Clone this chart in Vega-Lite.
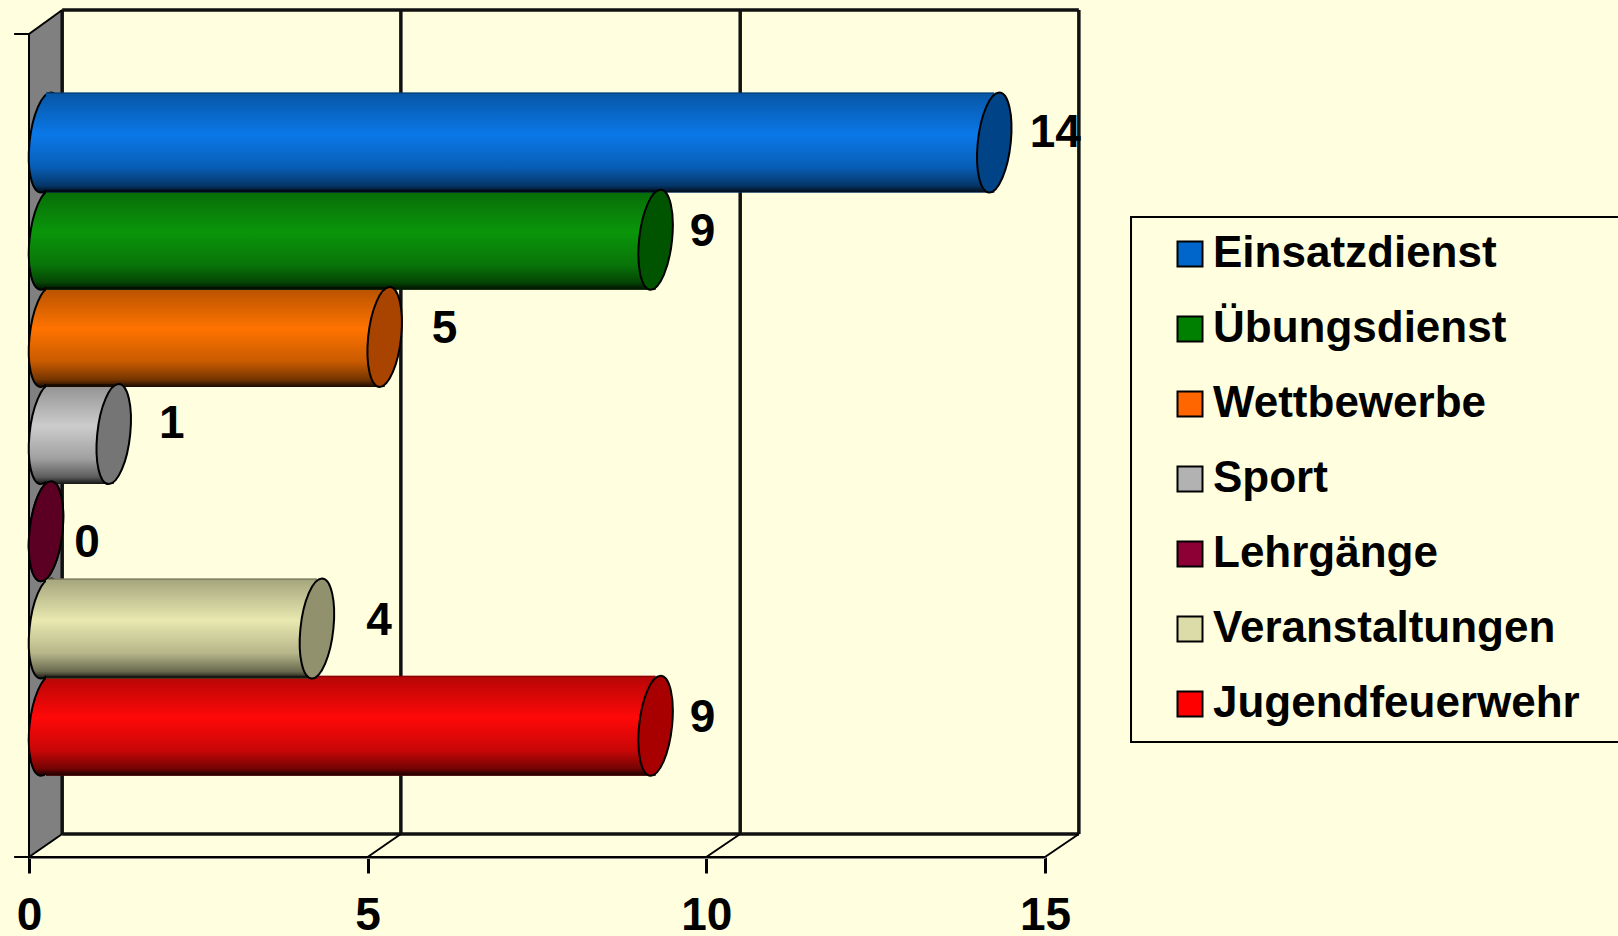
{"$schema":"https://vega.github.io/schema/vega-lite/v6.json","width":1618,"height":857,"autosize":{"type":"none"},"padding":{"left":0,"top":0,"right":0,"bottom":79},"background":"#ffffe0","config":{"view":{"stroke":null},"font":"Liberation Sans"},"resolve":{"scale":{"fill":"independent"}},
"datasets":{"bars":[{"kategorie":"Jugendfeuerwehr","wert":9,"platz":7},{"kategorie":"Veranstaltungen","wert":4,"platz":6},{"kategorie":"Lehrgänge","wert":0,"platz":5},{"kategorie":"Sport","wert":1,"platz":4},{"kategorie":"Wettbewerbe","wert":5,"platz":3},{"kategorie":"Übungsdienst","wert":9,"platz":2},{"kategorie":"Einsatzdienst","wert":14,"platz":1}],
"wall":[{"x":0,"y":-0.116,"y2":8.351},{"x":0.49,"y":-0.363,"y2":8.114}],
"box":[{"x":16.27,"x2":24,"y":1.766,"y2":7.167}],
"thick":[{"x":0.49,"x2":15.5,"y":-0.363,"y2":-0.363},{"x":0.49,"x2":15.5,"y":8.114,"y2":8.114},{"x":15.5,"x2":15.5,"y":-0.363,"y2":8.114},{"x":0.49,"x2":0.49,"y":-0.363,"y2":8.114},{"x":5.49,"x2":5.49,"y":-0.363,"y2":8.114},{"x":10.5,"x2":10.5,"y":-0.363,"y2":8.114}],
"thin":[{"x":0,"x2":0.49,"y":-0.116,"y2":-0.363},{"x":0,"x2":0.49,"y":8.351,"y2":8.114},{"x":5,"x2":5.49,"y":8.351,"y2":8.114},{"x":10,"x2":10.5,"y":8.351,"y2":8.114},{"x":15,"x2":15.5,"y":8.351,"y2":8.114},{"x":0,"x2":0,"y":-0.116,"y2":8.351},{"x":-0.22,"x2":0,"y":-0.116,"y2":-0.116},{"x":-0.22,"x2":0,"y":8.351,"y2":8.351},{"x":0,"x2":15,"y":8.351,"y2":8.351}]},
"layer":[
{"data":{"name":"wall"},"mark":{"type":"area","color":"#808080","orient":"vertical"},"encoding":{"x":{"field":"x","type":"quantitative","scale":{"domain":[0,15],"range":[29,1045],"nice":false,"zero":false,"padding":0},"title":null,"axis":{"values":[0,5,10,15],"format":"d","grid":false,"domain":true,"domainColor":"#808080","domainWidth":3,"ticks":true,"tickColor":"#000000","tickWidth":3,"tickSize":16,"labelFont":"Liberation Sans","labelFontWeight":"bold","labelFontSize":46,"labelColor":"#000000","labelPadding":20,"labelFlush":false,"labelOverlap":false,"labelBound":false}},"y":{"field":"y","type":"quantitative","scale":{"domain":[8.351,-0.116],"range":[857,34],"nice":false,"zero":false,"padding":0},"axis":null},"y2":{"field":"y2"}}},
{"data":{"name":"box"},"mark":{"type":"rect","fill":"#ffffe0","stroke":"#000000","strokeWidth":2},"encoding":{"x":{"field":"x","type":"quantitative"},"x2":{"field":"x2"},"y":{"field":"y","type":"quantitative"},"y2":{"field":"y2"}}},
{"data":{"name":"thick"},"mark":{"type":"rule","color":"#111111","strokeWidth":3.5},"encoding":{"x":{"field":"x","type":"quantitative"},"x2":{"field":"x2"},"y":{"field":"y","type":"quantitative"},"y2":{"field":"y2"}}},
{"data":{"name":"thin"},"mark":{"type":"rule","color":"#000000","strokeWidth":2},"encoding":{"x":{"field":"x","type":"quantitative"},"x2":{"field":"x2"},"y":{"field":"y","type":"quantitative"},"y2":{"field":"y2"}}},
{"data":{"name":"bars"},"mark":{"type":"point","filled":true,"xOffset":17,"shape":"M0.1,-1C0.282,-1,0.385,-0.552,0.33,0C0.275,0.552,0.082,1,-0.1,1C-0.282,1,-0.385,0.552,-0.33,0C-0.275,-0.552,-0.082,-1,0.1,-1Z","size":10000,"stroke":"#000000","strokeWidth":2,"opacity":1},"encoding":{"x":{"datum":0,"type":"quantitative"},"y":{"field":"platz","type":"quantitative"},"fill":{"field":"kategorie","type":"nominal","scale":{"domain":["Einsatzdienst","Übungsdienst","Wettbewerbe","Sport","Lehrgänge","Veranstaltungen","Jugendfeuerwehr"],"range":["#0a78e8","#0a960a","#ff7300","#cccccc","#8c0036","#e8e8b0","#ff0808"]},"legend":null}}},
{"data":{"name":"bars"},"mark":{"type":"point","filled":true,"xOffset":17,"opacity":1,"shape":"M0.1,-1C0.282,-1,0.385,-0.552,0.33,0C0.275,0.552,0.082,1,-0.1,1C-0.282,1,-0.385,0.552,-0.33,0C-0.275,-0.552,-0.082,-1,0.1,-1Z","size":10000,"fill":{"gradient":"linear","x1":0,"y1":0,"x2":0,"y2":1,"stops":[{"offset":0,"color":"rgba(0,0,0,0.6)"},{"offset":0.02,"color":"rgba(0,0,0,0.28)"},{"offset":0.42,"color":"rgba(0,0,0,0)"},{"offset":0.75,"color":"rgba(0,0,0,0.22)"},{"offset":0.93,"color":"rgba(0,0,0,0.55)"},{"offset":1,"color":"rgba(0,0,0,0.9)"}]}},"encoding":{"x":{"datum":0,"type":"quantitative"},"y":{"field":"platz","type":"quantitative"}}},
{"data":{"name":"bars"},"mark":{"type":"bar","orient":"horizontal","size":100,"xOffset":17,"x2Offset":17},"encoding":{"x":{"field":"wert","type":"quantitative"},"y":{"field":"platz","type":"quantitative"},"fill":{"field":"kategorie","type":"nominal","scale":{"domain":["Einsatzdienst","Übungsdienst","Wettbewerbe","Sport","Lehrgänge","Veranstaltungen","Jugendfeuerwehr"],"range":["#0a78e8","#0a960a","#ff7300","#cccccc","#8c0036","#e8e8b0","#ff0808"]},"legend":null}}},
{"data":{"name":"bars"},"mark":{"type":"bar","orient":"horizontal","size":100,"xOffset":17,"x2Offset":17,"fill":{"gradient":"linear","x1":0,"y1":0,"x2":0,"y2":1,"stops":[{"offset":0,"color":"rgba(0,0,0,0.6)"},{"offset":0.02,"color":"rgba(0,0,0,0.28)"},{"offset":0.42,"color":"rgba(0,0,0,0)"},{"offset":0.75,"color":"rgba(0,0,0,0.22)"},{"offset":0.93,"color":"rgba(0,0,0,0.55)"},{"offset":1,"color":"rgba(0,0,0,0.9)"}]}},"encoding":{"x":{"field":"wert","type":"quantitative"},"y":{"field":"platz","type":"quantitative"}}},
{"data":{"name":"bars"},"mark":{"type":"point","filled":true,"xOffset":17,"shape":"M0.1,-1C0.282,-1,0.385,-0.552,0.33,0C0.275,0.552,0.082,1,-0.1,1C-0.282,1,-0.385,0.552,-0.33,0C-0.275,-0.552,-0.082,-1,0.1,-1Z","size":10000,"opacity":1},"encoding":{"x":{"field":"wert","type":"quantitative"},"y":{"field":"platz","type":"quantitative"},"fill":{"field":"kategorie","type":"nominal","scale":{"domain":["Einsatzdienst","Übungsdienst","Wettbewerbe","Sport","Lehrgänge","Veranstaltungen","Jugendfeuerwehr"],"range":["#0066cc","#008000","#ff6600","#b2b2b2","#8c0036","#dcdca8","#ff0000"]},"legend":{"title":null,"orient":"none","legendX":1168,"legendY":232,"padding":0,"symbolType":"square","symbolSize":625,"symbolStrokeColor":"#000000","symbolStrokeWidth":2,"symbolOpacity":1,"labelFont":"Liberation Sans","labelFontWeight":"bold","labelFontSize":44,"labelColor":"#000000","labelOffset":1,"labelLimit":500,"rowPadding":31}}}},
{"data":{"name":"bars"},"mark":{"type":"point","filled":true,"xOffset":17,"shape":"M0.1,-1C0.282,-1,0.385,-0.552,0.33,0C0.275,0.552,0.082,1,-0.1,1C-0.282,1,-0.385,0.552,-0.33,0C-0.275,-0.552,-0.082,-1,0.1,-1Z","size":10000,"fill":"rgba(0,0,0,0.34)","stroke":"#000000","strokeWidth":2,"opacity":1},"encoding":{"x":{"field":"wert","type":"quantitative"},"y":{"field":"platz","type":"quantitative"}}},
{"data":{"name":"bars"},"transform":[{"filter":"datum.platz==1"}],"mark":{"type":"text","font":"Liberation Sans","fontWeight":"bold","fontSize":46,"color":"#000000","baseline":"middle","align":"center","dx":78,"dy":-9},"encoding":{"x":{"field":"wert","type":"quantitative"},"y":{"field":"platz","type":"quantitative"},"text":{"field":"wert","type":"quantitative"}}},
{"data":{"name":"bars"},"transform":[{"filter":"datum.platz==2||datum.platz==7"}],"mark":{"type":"text","font":"Liberation Sans","fontWeight":"bold","fontSize":46,"color":"#000000","baseline":"middle","align":"center","dx":64,"dy":-8},"encoding":{"x":{"field":"wert","type":"quantitative"},"y":{"field":"platz","type":"quantitative"},"text":{"field":"wert","type":"quantitative"}}},
{"data":{"name":"bars"},"transform":[{"filter":"datum.platz==3"}],"mark":{"type":"text","font":"Liberation Sans","fontWeight":"bold","fontSize":46,"color":"#000000","baseline":"middle","align":"center","dx":77,"dy":-8},"encoding":{"x":{"field":"wert","type":"quantitative"},"y":{"field":"platz","type":"quantitative"},"text":{"field":"wert","type":"quantitative"}}},
{"data":{"name":"bars"},"transform":[{"filter":"datum.platz==4"}],"mark":{"type":"text","font":"Liberation Sans","fontWeight":"bold","fontSize":46,"color":"#000000","baseline":"middle","align":"center","dx":75,"dy":-10},"encoding":{"x":{"field":"wert","type":"quantitative"},"y":{"field":"platz","type":"quantitative"},"text":{"field":"wert","type":"quantitative"}}},
{"data":{"name":"bars"},"transform":[{"filter":"datum.platz==5"}],"mark":{"type":"text","font":"Liberation Sans","fontWeight":"bold","fontSize":46,"color":"#000000","baseline":"middle","align":"center","dx":58,"dy":12},"encoding":{"x":{"field":"wert","type":"quantitative"},"y":{"field":"platz","type":"quantitative"},"text":{"field":"wert","type":"quantitative"}}},
{"data":{"name":"bars"},"transform":[{"filter":"datum.platz==6"}],"mark":{"type":"text","font":"Liberation Sans","fontWeight":"bold","fontSize":46,"color":"#000000","baseline":"middle","align":"center","dx":79,"dy":-7},"encoding":{"x":{"field":"wert","type":"quantitative"},"y":{"field":"platz","type":"quantitative"},"text":{"field":"wert","type":"quantitative"}}}
]}
